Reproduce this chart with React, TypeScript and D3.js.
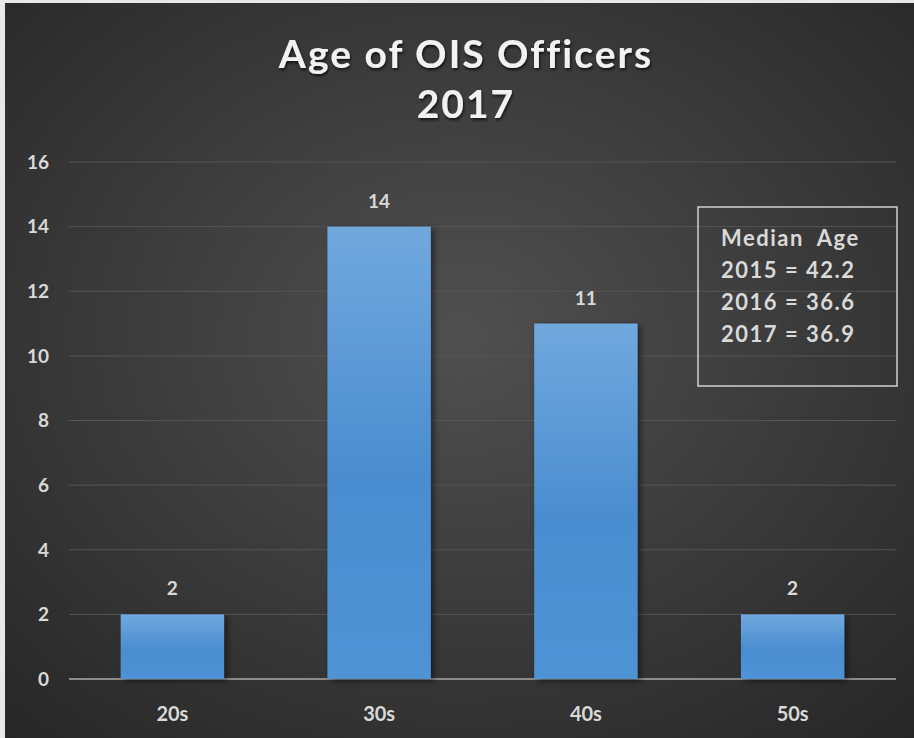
import React from "react";
import * as d3 from "d3";

const categories = ["20s", "30s", "40s", "50s"];
const values = [2, 14, 11, 2];
const yTicks = [0, 2, 4, 6, 8, 10, 12, 14, 16];
const titleLines = ["Age of OIS Officers", "2017"];
const noteLines = ["Median  Age", "2015 = 42.2", "2016 = 36.6", "2017 = 36.9"];

const W = 914;
const H = 738;
const FONT = "Lato, 'Open Sans', sans-serif";

export default function App() {
  const x = d3.scaleBand<string>().domain(categories).range([69, 896]).paddingInner(0.5).paddingOuter(0.25);
  const y = d3.scaleLinear().domain([0, 16]).range([679, 162]);
  const txt = "#d9d9d9";
  return (
    <svg width={W} height={H} style={{ position: "absolute", left: 0, top: 0, display: "block" }}>
      <defs>
        <radialGradient id="bg" cx="0.5" cy="0.45" r="0.75">
          <stop offset="0" stopColor="#505050" />
          <stop offset="1" stopColor="#262626" />
        </radialGradient>
        <linearGradient id="bar" x1="0" y1="0" x2="0" y2="1">
          <stop offset="0" stopColor="#71a8de" />
          <stop offset="0.55" stopColor="#4a8dd0" />
          <stop offset="1" stopColor="#4f93d5" />
        </linearGradient>
        <filter id="shadow" x="-20%" y="-20%" width="150%" height="150%">
          <feDropShadow dx="3" dy="2" stdDeviation="3" floodColor="#000" floodOpacity="0.5" />
        </filter>
        <filter id="tshadow" x="-10%" y="-30%" width="120%" height="160%">
          <feDropShadow dx="1" dy="2" stdDeviation="1.5" floodColor="#000" floodOpacity="0.7" />
        </filter>
      </defs>
      <rect x={0} y={0} width={W} height={H} fill="#e8e8e8" />
      <rect x={5} y={3} width={W - 5} height={H - 3} fill="url(#bg)" />
      {yTicks.map((t) => (
        <line
          key={t}
          x1={69}
          x2={896}
          y1={y(t)}
          y2={y(t)}
          stroke={t === 0 ? "#8c8c8c" : "#555555"}
          strokeWidth={t === 0 ? 2 : 1}
        />
      ))}
      {yTicks.map((t) => (
        <text
          key={"yl" + t}
          x={49}
          y={y(t)}
          dy="0.36em"
          textAnchor="end"
          fill={txt}
          fontFamily={FONT}
          fontWeight="bold"
          fontSize={19}
        >
          {t}
        </text>
      ))}
      {categories.map((c, i) => (
        <rect
          key={c}
          x={x(c)}
          y={y(values[i])}
          width={x.bandwidth()}
          height={y(0) - y(values[i])}
          fill="url(#bar)"
          filter="url(#shadow)"
        />
      ))}
      {categories.map((c, i) => (
        <text
          key={"dl" + c}
          x={(x(c) as number) + x.bandwidth() / 2}
          y={y(values[i]) - 19}
          textAnchor="middle"
          fill={txt}
          fontFamily={FONT}
          fontWeight="bold"
          fontSize={19}
        >
          {values[i]}
        </text>
      ))}
      {categories.map((c) => (
        <text
          key={"xl" + c}
          x={(x(c) as number) + x.bandwidth() / 2}
          y={721}
          textAnchor="middle"
          fill={txt}
          fontFamily={FONT}
          fontWeight="bold"
          fontSize={20}
        >
          {c}
        </text>
      ))}
      {titleLines.map((l, i) => (
        <text
          key={"t" + i}
          x={466}
          y={68 + i * 50}
          textAnchor="middle"
          fill="#f2f2f2"
          fontFamily={FONT}
          fontWeight="bold"
          fontSize={39}
          filter="url(#tshadow)"
          letterSpacing={2}
        >
          {l}
        </text>
      ))}
      <rect x={698} y={207} width={199} height={179} fill="none" stroke="#d0d0d0" strokeWidth={1.5} />
      {noteLines.map((l, i) => (
        <text
          key={"n" + i}
          x={721}
          y={246 + i * 32}
          fill={txt}
          fontFamily={FONT}
          fontWeight="bold"
          fontSize={22}
          letterSpacing={1.5}
          style={{ whiteSpace: "pre" }}
        >
          {l}
        </text>
      ))}
    </svg>
  );
}
